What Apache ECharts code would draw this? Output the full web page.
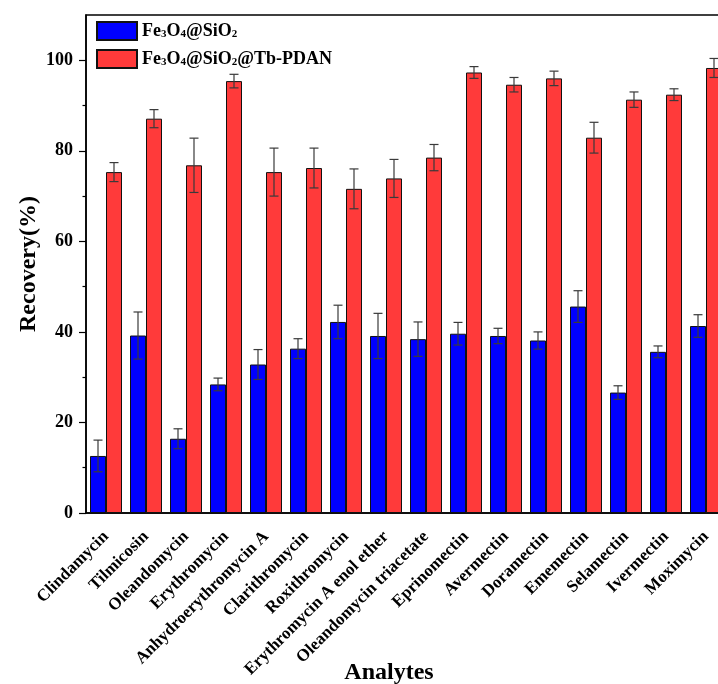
<!DOCTYPE html>
<html>
<head>
<meta charset="utf-8">
<script src="https://cdn.jsdelivr.net/npm/echarts@6/dist/echarts.min.js"></script>
<style>
html,body{margin:0;padding:0;background:#fff;}
#chart{width:718px;height:684px;}
</style>
</head>
<body>
<div id="chart"></div>
<script>
const categories = ['Clindamycin','Tilmicosin','Oleandomycin','Erythromycin','Anhydroerythromycin A','Clarithromycin','Roxithromycin','Erythromycin A enol ether','Oleandomycin triacetate','Eprinomectin','Avermectin','Doramectin','Ememectin','Selamectin','Ivermectin','Moximycin'];
const seriesNames = ['Fe3O4@SiO2', 'Fe3O4@SiO2@Tb-PDAN'];
const sio2 = [12.6, 39.2, 16.4, 28.4, 32.8, 36.3, 42.2, 39.1, 38.4, 39.6, 39.1, 38.1, 45.6, 26.6, 35.6, 41.3];
const sio2Err = [3.5, 5.2, 2.2, 1.4, 3.3, 2.2, 3.7, 5.0, 3.8, 2.5, 1.7, 1.9, 3.5, 1.5, 1.3, 2.5];
const tb = [75.3, 87.1, 76.8, 95.4, 75.3, 76.2, 71.6, 73.9, 78.5, 97.3, 94.6, 96.0, 82.9, 91.3, 92.4, 98.3];
const tbErr = [2.1, 2.0, 6.0, 1.5, 5.3, 4.4, 4.4, 4.2, 2.9, 1.3, 1.6, 1.6, 3.4, 1.7, 1.3, 2.1];
const majorTicks = [0, 20, 40, 60, 80, 100];
const minorTicks = [10, 30, 50, 70, 90];

const FONT = "'Liberation Serif', 'Times New Roman', serif";
const chart = echarts.init(document.getElementById('chart'));

function errRender(side) {
  return function (params, api) {
    const i = api.value(0), v = api.value(1), e = api.value(2);
    const c = api.coord([i, v]);
    const band = api.size([1, 0])[0];
    const barW = band * 0.4;
    const x = c[0] + side * barW / 2;
    const top = api.coord([i, v + e])[1];
    const bot = api.coord([i, v - e])[1];
    const hw = 4.5;
    const st = { stroke: '#3a3a3a', lineWidth: 1.2 };
    return {
      type: 'group',
      children: [
        { type: 'line', shape: { x1: x, y1: top, x2: x, y2: bot }, style: st },
        { type: 'line', shape: { x1: x - hw, y1: top, x2: x + hw, y2: top }, style: st },
        { type: 'line', shape: { x1: x - hw, y1: bot, x2: x + hw, y2: bot }, style: st }
      ]
    };
  };
}

function legendFmt(name) {
  return name.replace(/(Fe)3(O)4(@SiO)2/, '$1{s|3}$2{s|4}$3{s|2}').replace(/^([^{]*)\{/, '{m|$1}{').replace(/\}([^{}]+)\{/g, '}{m|$1}{').replace(/\}([^{}]+)$/, '}{m|$1}');
}

const option = {
  backgroundColor: '#fff',
  animation: false,
  grid: { left: 86, top: 15, width: 640, height: 498, outerBoundsMode: 'none', containLabel: false, show: true, borderColor: '#000', borderWidth: 1.5, backgroundColor: 'transparent' },
  legend: {
    data: seriesNames,
    orient: 'vertical',
    left: 91, top: 16,
    itemWidth: 40, itemHeight: 18, itemGap: 8,
    icon: 'rect',
    formatter: legendFmt,
    textStyle: {
      rich: {
        m: { fontFamily: FONT, fontWeight: 'bold', fontSize: 18, color: '#000', lineHeight: 18 },
        s: { fontFamily: FONT, fontWeight: 'bold', fontSize: 11, color: '#000', lineHeight: 10, verticalAlign: 'bottom' }
      }
    }
  },
  xAxis: {
    type: 'category',
    data: categories,
    name: 'Analytes',
    nameLocation: 'middle',
    nameGap: 148,
    nameMoveOverlap: false,
    nameTextStyle: { fontFamily: FONT, fontWeight: 'bold', fontSize: 24, color: '#000', padding: [0, 34, 0, 0] },
    axisLine: { lineStyle: { color: '#000', width: 1.5 } },
    axisTick: { alignWithLabel: true, length: 7, lineStyle: { color: '#000', width: 1.2 } },
    axisLabel: { rotate: 45, interval: 0, margin: 21, fontFamily: FONT, fontWeight: 'bold', fontSize: 17, color: '#000' }
  },
  yAxis: [{
    type: 'value', min: 0, max: 110, interval: 20,
    name: 'Recovery(%)',
    nameLocation: 'middle',
    nameGap: 45,
    nameMoveOverlap: false,
    nameTextStyle: { fontFamily: FONT, fontWeight: 'bold', fontSize: 24, color: '#000' },
    axisLine: { show: true, lineStyle: { color: '#000', width: 1.5 } },
    axisTick: { show: true, length: 7, customValues: majorTicks, lineStyle: { color: '#000', width: 1.2 } },
    axisLabel: { customValues: majorTicks, margin: 13, fontFamily: FONT, fontWeight: 'bold', fontSize: 18, color: '#000' },
    splitLine: { show: false }
  }, {
    type: 'value', min: 0, max: 110, interval: 10, position: 'left',
    axisLine: { show: false },
    axisTick: { show: true, length: 3.5, customValues: minorTicks, lineStyle: { color: '#000', width: 1.2 } },
    axisLabel: { show: false },
    splitLine: { show: false }
  }],
  series: [
    {
      name: seriesNames[0], type: 'bar', data: sio2,
      barGap: '0%', barCategoryGap: '20%',
      itemStyle: { color: '#0000FF', borderColor: '#111', borderWidth: 1 }
    },
    {
      name: seriesNames[1], type: 'bar', data: tb,
      barGap: '0%', barCategoryGap: '20%',
      itemStyle: { color: '#FF3A3A', borderColor: '#111', borderWidth: 1 }
    },
    {
      type: 'custom', z: 5, renderItem: errRender(-1),
      encode: { x: 0, y: 1 },
      data: sio2.map((v, i) => [i, v, sio2Err[i]])
    },
    {
      type: 'custom', z: 5, renderItem: errRender(1),
      encode: { x: 0, y: 1 },
      data: tb.map((v, i) => [i, v, tbErr[i]])
    }
  ]
};
chart.setOption(option);
</script>
</body>
</html>
